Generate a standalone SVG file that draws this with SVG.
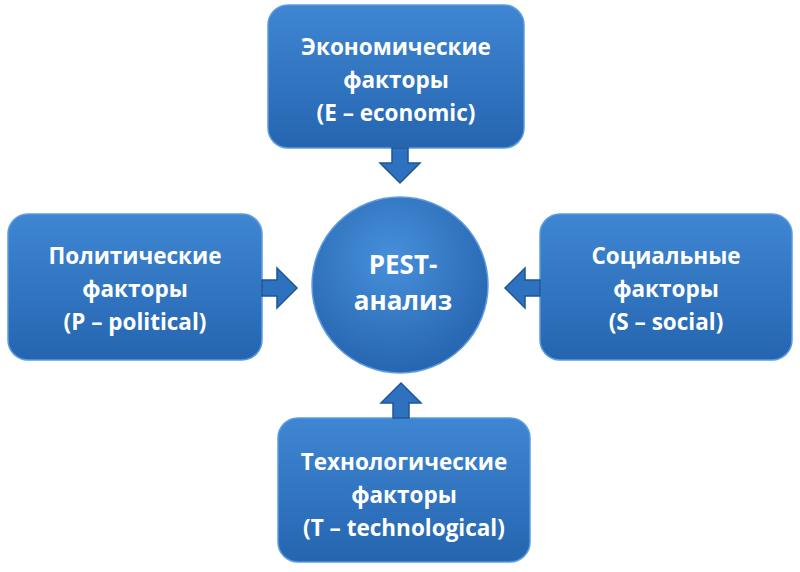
<svg xmlns="http://www.w3.org/2000/svg" width="800" height="572" viewBox="0 0 800 572">
<defs>
<linearGradient id="g" x1="0" y1="0" x2="0" y2="1"><stop offset="0" stop-color="#3f86d2"/><stop offset="1" stop-color="#2565b0"/></linearGradient>
<radialGradient id="c" cx="0.45" cy="0.35" r="0.7"><stop offset="0" stop-color="#4790da"/><stop offset="1" stop-color="#2462ad"/></radialGradient>
<style>
.b{fill:url(#g);stroke:#5b9be0;stroke-width:1.5}
.a{fill:#2e72bf;stroke:#1d5599;stroke-width:1.5}
.t{font-family:"Open Sans","Liberation Sans",sans-serif;font-weight:bold;font-size:22.5px;fill:#fff;text-anchor:middle}
</style>
</defs>
<rect width="800" height="572" fill="#fff"/>
<g id="economic"><rect class="b" x="268" y="5" width="256" height="143" rx="20"/>
<text class="t" x="396" y="55">Экономические</text><text class="t" x="396" y="88">факторы</text><text class="t" x="396" y="121">(E – economic)</text></g>
<g id="political"><rect class="b" x="8" y="214" width="254" height="146" rx="20"/>
<text class="t" x="135" y="264">Политические</text><text class="t" x="135" y="297">факторы</text><text class="t" x="135" y="330">(P – political)</text></g>
<g id="social"><rect class="b" x="540" y="214" width="252" height="146" rx="20"/>
<text class="t" x="666" y="264">Социальные</text><text class="t" x="666" y="297">факторы</text><text class="t" x="666" y="330">(S – social)</text></g>
<g id="technological"><rect class="b" x="278" y="418" width="252" height="144" rx="20"/>
<text class="t" x="404" y="470">Технологические</text><text class="t" x="404" y="503">факторы</text><text class="t" x="404" y="536">(T – technological)</text></g>
<g id="pest"><circle cx="400" cy="285" r="88" fill="url(#c)" stroke="#5b9be0" stroke-width="1.5"/>
<text class="t" x="403" y="274" style="font-size:26px">PEST-</text><text class="t" x="403" y="310" style="font-size:26px">анализ</text></g>
<g id="connectors">
<path class="a" d="M392 148h16v15h12l-20 20l-20-20h12z"/>
<path class="a" d="M262 280v16h15v12l20-20l-20-20v12z"/>
<path class="a" d="M540 280v16h-15v12l-20-20l20-20v12z"/>
<path class="a" d="M393 418h16v-15h12l-20-20l-20 20h12z"/>
</g>
</svg>
